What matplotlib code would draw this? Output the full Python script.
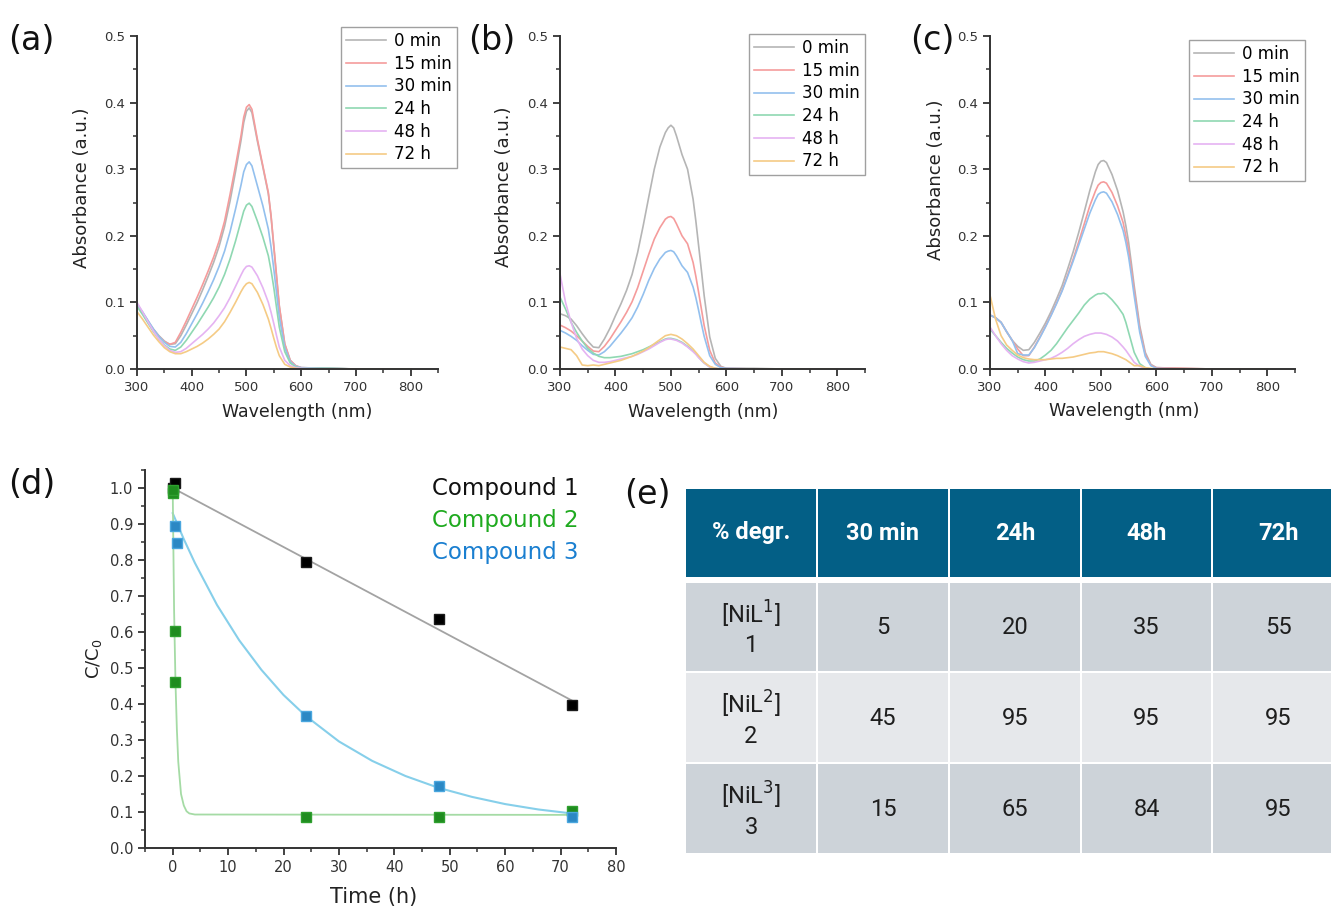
import matplotlib
matplotlib.use("Agg")
import matplotlib.pyplot as plt
from matplotlib.patches import Rectangle
from matplotlib.ticker import MultipleLocator, FormatStrFormatter

plt.rcParams["font.family"] = ["DejaVu Sans"]
plt.rcParams["mathtext.fontset"] = "custom"
plt.rcParams["mathtext.rm"] = "DejaVu Sans"

# ---------------- data ----------------
WAVELENGTH = [300, 310, 320, 330, 340, 350, 360, 370, 380, 390, 400, 410, 420, 430, 440, 450, 460, 470, 480,
              490, 495, 500, 505, 510, 520, 530, 540, 545, 550, 555, 560, 570, 580, 590, 600,
              650, 700, 750, 800]
TIME_LABELS = ["0 min", "15 min", "30 min", "24 h", "48 h", "72 h"]

# panel (a)
a_0min = [0.097, 0.085, 0.072, 0.060, 0.050, 0.042, 0.037, 0.038, 0.050, 0.066, 0.083, 0.100, 0.119, 0.139, 0.160,
          0.184, 0.214, 0.252, 0.296, 0.343, 0.370, 0.387, 0.392, 0.385, 0.342, 0.303, 0.263, 0.228, 0.183, 0.138,
          0.094, 0.037, 0.013, 0.005, 0.002, 0.001, 0.0, 0.0, 0.0]
a_15min = [0.095, 0.084, 0.071, 0.059, 0.049, 0.041, 0.037, 0.040, 0.055, 0.072, 0.090, 0.108, 0.127, 0.147, 0.168,
           0.192, 0.222, 0.262, 0.305, 0.350, 0.378, 0.393, 0.397, 0.390, 0.345, 0.305, 0.265, 0.230, 0.185, 0.140,
           0.095, 0.038, 0.013, 0.005, 0.002, 0.001, 0.0, 0.0, 0.0]
a_30min = [0.097, 0.086, 0.073, 0.060, 0.049, 0.040, 0.034, 0.033, 0.040, 0.053, 0.068, 0.083, 0.099, 0.116, 0.134,
           0.154, 0.177, 0.206, 0.240, 0.276, 0.296, 0.307, 0.311, 0.305, 0.275, 0.245, 0.210, 0.183, 0.150, 0.114,
           0.078, 0.032, 0.011, 0.004, 0.002, 0.001, 0.0, 0.0, 0.0]
a_24h = [0.094, 0.082, 0.069, 0.056, 0.045, 0.036, 0.030, 0.028, 0.033, 0.043, 0.055, 0.067, 0.080, 0.093, 0.107,
         0.123, 0.142, 0.165, 0.192, 0.222, 0.237, 0.246, 0.249, 0.244, 0.222, 0.198, 0.170, 0.148, 0.122, 0.092,
         0.063, 0.026, 0.009, 0.003, 0.001, 0.001, 0.0, 0.0, 0.0]
a_48h = [0.100, 0.086, 0.071, 0.057, 0.045, 0.035, 0.028, 0.025, 0.026, 0.031, 0.038, 0.045, 0.052, 0.060, 0.069,
         0.080, 0.092, 0.107, 0.124, 0.141, 0.149, 0.154, 0.155, 0.153, 0.140, 0.122, 0.100, 0.085, 0.068, 0.050,
         0.033, 0.013, 0.005, 0.002, 0.001, 0.0, 0.0, 0.0, 0.0]
a_72h = [0.086, 0.075, 0.063, 0.051, 0.041, 0.032, 0.026, 0.023, 0.023, 0.026, 0.030, 0.034, 0.039, 0.045, 0.052,
         0.060, 0.071, 0.085, 0.100, 0.116, 0.123, 0.128, 0.130, 0.128, 0.115, 0.097, 0.075, 0.061, 0.046, 0.032,
         0.020, 0.007, 0.003, 0.001, 0.0, 0.0, 0.0, 0.0, 0.0]

# panel (b)
b_0min = [0.083, 0.080, 0.075, 0.065, 0.053, 0.042, 0.033, 0.032, 0.045, 0.061, 0.080, 0.098, 0.118, 0.142, 0.175,
          0.215, 0.258, 0.300, 0.333, 0.355, 0.362, 0.366, 0.362, 0.350, 0.322, 0.300, 0.255, 0.222, 0.185, 0.148,
          0.110, 0.048, 0.016, 0.004, 0.001, 0.001, 0.0, 0.0, 0.0]
b_15min = [0.066, 0.062, 0.057, 0.050, 0.042, 0.034, 0.027, 0.026, 0.034, 0.045, 0.058, 0.071, 0.085, 0.101, 0.122,
           0.147, 0.172, 0.195, 0.212, 0.225, 0.228, 0.229, 0.226, 0.218, 0.200, 0.188, 0.160, 0.139, 0.115, 0.090,
           0.065, 0.028, 0.009, 0.003, 0.001, 0.0, 0.0, 0.0, 0.0]
b_30min = [0.058, 0.054, 0.049, 0.043, 0.035, 0.028, 0.022, 0.021, 0.026, 0.034, 0.044, 0.054, 0.065, 0.077, 0.093,
           0.112, 0.133, 0.151, 0.165, 0.175, 0.177, 0.178, 0.176, 0.170, 0.155, 0.145, 0.123, 0.107, 0.088, 0.068,
           0.049, 0.020, 0.007, 0.002, 0.001, 0.0, 0.0, 0.0, 0.0]
b_24h = [0.108, 0.090, 0.070, 0.055, 0.042, 0.031, 0.024, 0.019, 0.017, 0.017, 0.018, 0.019, 0.021, 0.023, 0.026,
         0.029, 0.033, 0.037, 0.041, 0.045, 0.046, 0.046, 0.045, 0.044, 0.040, 0.034, 0.027, 0.023, 0.018, 0.013,
         0.009, 0.003, 0.001, 0.0, 0.0, 0.0, 0.0, 0.0, 0.0]
b_48h = [0.143, 0.100, 0.070, 0.046, 0.030, 0.020, 0.013, 0.010, 0.010, 0.011, 0.013, 0.015, 0.017, 0.019, 0.022,
         0.026, 0.030, 0.035, 0.040, 0.044, 0.045, 0.045, 0.044, 0.043, 0.039, 0.033, 0.026, 0.022, 0.017, 0.013,
         0.009, 0.003, 0.001, 0.0, 0.0, 0.0, 0.0, 0.0, 0.0]
b_72h = [0.033, 0.031, 0.029, 0.020, 0.006, 0.005, 0.006, 0.005, 0.007, 0.009, 0.011, 0.013, 0.016, 0.019, 0.023,
         0.027, 0.032, 0.038, 0.044, 0.050, 0.051, 0.052, 0.051, 0.050, 0.045, 0.038, 0.030, 0.025, 0.020, 0.015,
         0.010, 0.004, 0.001, 0.0, 0.0, 0.0, 0.0, 0.0, 0.0]

# panel (c)
c_0min = [0.081, 0.077, 0.070, 0.056, 0.043, 0.034, 0.028, 0.029, 0.040, 0.054, 0.069, 0.086, 0.105, 0.125, 0.150,
          0.176, 0.205, 0.236, 0.268, 0.296, 0.307, 0.312, 0.313, 0.310, 0.292, 0.268, 0.236, 0.215, 0.190, 0.158,
          0.125, 0.065, 0.025, 0.007, 0.002, 0.001, 0.0, 0.0, 0.0]
c_15min = [0.081, 0.077, 0.070, 0.056, 0.043, 0.030, 0.020, 0.020, 0.033, 0.048, 0.064, 0.081, 0.099, 0.118, 0.141,
           0.165, 0.191, 0.218, 0.245, 0.267, 0.276, 0.280, 0.281, 0.279, 0.265, 0.245, 0.220, 0.200, 0.178, 0.149,
           0.118, 0.060, 0.022, 0.006, 0.002, 0.001, 0.0, 0.0, 0.0]
c_30min = [0.081, 0.077, 0.070, 0.056, 0.043, 0.023, 0.021, 0.021, 0.032, 0.047, 0.063, 0.080, 0.098, 0.117, 0.139,
           0.162, 0.186, 0.210, 0.234, 0.254, 0.262, 0.265, 0.266, 0.264, 0.251, 0.232, 0.208, 0.190, 0.168, 0.140,
           0.110, 0.055, 0.019, 0.005, 0.001, 0.0, 0.0, 0.0, 0.0]
c_24h = [0.060, 0.050, 0.040, 0.031, 0.024, 0.018, 0.014, 0.012, 0.012, 0.015, 0.021, 0.028, 0.038, 0.050, 0.062,
         0.073, 0.084, 0.096, 0.105, 0.111, 0.113, 0.113, 0.114, 0.112, 0.104, 0.094, 0.082, 0.070, 0.055, 0.040,
         0.025, 0.008, 0.002, 0.0, 0.0, 0.0, 0.0, 0.0, 0.0]
c_48h = [0.063, 0.050, 0.038, 0.028, 0.020, 0.015, 0.011, 0.009, 0.010, 0.012, 0.014, 0.016, 0.020, 0.025, 0.031,
         0.038, 0.044, 0.049, 0.052, 0.054, 0.054, 0.054, 0.053, 0.052, 0.048, 0.042, 0.033, 0.028, 0.022, 0.016,
         0.010, 0.004, 0.001, 0.0, 0.0, 0.0, 0.0, 0.0, 0.0]
c_72h = [0.111, 0.075, 0.050, 0.036, 0.028, 0.021, 0.017, 0.015, 0.014, 0.014, 0.014, 0.015, 0.016, 0.016, 0.017,
         0.018, 0.020, 0.022, 0.024, 0.025, 0.026, 0.026, 0.026, 0.025, 0.023, 0.020, 0.016, 0.014, 0.011, 0.008,
         0.005, 0.005, 0.002, 0.001, 0.0, 0.0, 0.0, 0.0, 0.0]

# panel (d)
t_c1 = [0, 0.5, 24, 48, 72]
c1 = [1.000, 1.015, 0.795, 0.635, 0.397]
t_c2 = [0, 0.08, 0.33, 0.5, 24, 48, 72]
c2 = [0.986, 0.995, 0.602, 0.460, 0.086, 0.086, 0.104]
t_c3 = [0.45, 0.8, 24, 48, 72]
c3 = [0.895, 0.847, 0.367, 0.173, 0.087]
fit1_t = [0, 72]
fit1 = [1.0, 0.41]
fit2_t = [0, 0.25, 0.5, 0.75, 1.0, 1.5, 2.0, 2.5, 3.0, 4.0, 72]
fit2 = [1.0, 0.66, 0.46, 0.33, 0.24, 0.15, 0.118, 0.102, 0.096, 0.093, 0.092]
fit3_t = [0, 2, 4, 8, 12, 16, 20, 24, 30, 36, 42, 48, 54, 60, 66, 72]
fit3 = [0.930, 0.858, 0.792, 0.675, 0.577, 0.495, 0.425, 0.367, 0.296, 0.242, 0.200, 0.167, 0.142, 0.122,
        0.107, 0.096]
COMPOUND_NAMES = ["Compound 1", "Compound 2", "Compound 3"]

# panel (e)
TABLE_HEADER = ["% degr.", "30 min", "24h", "48h", "72h"]
ROW_LABELS = ["[NiL$^1$]\n1", "[NiL$^2$]\n2", "[NiL$^3$]\n3"]
deg_30min = [5, 45, 15]
deg_24h = [20, 95, 65]
deg_48h = [35, 95, 84]
deg_72h = [55, 95, 95]

# ---------------- layout ----------------
W, H = 1331, 910
fig = plt.figure(figsize=(W / 100, H / 100), dpi=100)
fig.patch.set_facecolor("white")


def fx(x):
    return x / W


def fy(y):
    return 1 - y / H


def add_ax(l, t, r, b):
    return fig.add_axes([fx(l), fy(b), (r - l) / W, (b - t) / H])


SPEC_COLORS = ["#b5b5b5", "#f59c9c", "#93c0ee", "#8fd8b2", "#e5b3f2", "#f5cb85"]
AX_COLOR = "#333333"


def style(ax, ticksize):
    for s in ["top", "right"]:
        ax.spines[s].set_visible(False)
    for s in ["left", "bottom"]:
        ax.spines[s].set_linewidth(1.4)
        ax.spines[s].set_color(AX_COLOR)
    ax.tick_params(which="major", direction="out", length=5, width=1.3, colors=AX_COLOR,
                   labelsize=ticksize, labelcolor="#333333")
    ax.tick_params(which="minor", direction="out", length=3, width=1.1, colors=AX_COLOR)


# table axes (pixel coordinates), drawn first / underneath
ax_t = fig.add_axes([0, 0, 1, 1])
ax_t.set_xlim(0, W)
ax_t.set_ylim(H, 0)
ax_t.axis("off")

spectra = [
    ([a_0min, a_15min, a_30min, a_24h, a_48h, a_72h], (137, 36, 438, 369), (341, 27), "(a)", (8, 40),
     (82, 188), (297, 412)),
    ([b_0min, b_15min, b_30min, b_24h, b_48h, b_72h], (560, 36, 865, 369), (749, 34), "(b)", (468, 40),
     (504, 187), (703, 412)),
    ([c_0min, c_15min, c_30min, c_24h, c_48h, c_72h], (990, 36, 1295, 369), (1189, 40), "(c)", (910, 40),
     (936, 180), (1124, 411)),
]

for series, box, legpos, tag, tagpos, ylabpos, xlabpos in spectra:
    ax = add_ax(*box)
    for vals, lab, col in zip(series, TIME_LABELS, SPEC_COLORS):
        ax.plot(WAVELENGTH, vals, color=col, lw=1.2, label=lab)
    ax.set_xlim(300, 850)
    ax.set_ylim(0, 0.5)
    ax.xaxis.set_major_locator(MultipleLocator(100))
    ax.xaxis.set_minor_locator(MultipleLocator(50))
    ax.yaxis.set_major_locator(MultipleLocator(0.1))
    ax.yaxis.set_minor_locator(MultipleLocator(0.05))
    ax.yaxis.set_major_formatter(FormatStrFormatter("%.1f"))
    style(ax, 9.5)
    leg = ax.legend(loc="upper left", bbox_to_anchor=(fx(legpos[0]), fy(legpos[1])),
                    bbox_transform=fig.transFigure, borderaxespad=0, fontsize=12,
                    handlelength=2.4, handletextpad=0.5, labelspacing=0.28, borderpad=0.3,
                    fancybox=False, framealpha=1, edgecolor="#a0a0a0")
    leg.get_frame().set_linewidth(1.0)
    fig.text(fx(tagpos[0]), fy(tagpos[1]), tag, fontsize=24, ha="left", va="center", color="#111111")
    fig.text(fx(ylabpos[0]), fy(ylabpos[1]), "Absorbance (a.u.)", rotation=90, fontsize=13,
             ha="center", va="center", color="#222222")
    fig.text(fx(xlabpos[0]), fy(xlabpos[1]), "Wavelength (nm)", fontsize=12.5,
             ha="center", va="center", color="#222222")

# ---------------- panel (d) ----------------
axd = add_ax(145, 470, 616, 848)
axd.plot(fit1_t, fit1, color="#a3a3a3", lw=1.3, zorder=1)
axd.plot(fit3_t, fit3, color="#86cfea", lw=1.5, zorder=1)
axd.plot(fit2_t, fit2, color="#a5dba5", lw=1.3, zorder=1)
axd.plot(t_c1, c1, ls="none", marker="s", ms=7, mfc="#000000", mec="#1a1a1a", zorder=3)
axd.plot(t_c2, c2, ls="none", marker="s", ms=7, mfc="#1f8c1f", mec="#2fa02f", zorder=4)
axd.plot(t_c3, c3, ls="none", marker="s", ms=7, mfc="#2b88c4", mec="#4aa7df", zorder=5)
axd.set_xlim(-5, 80)
axd.set_ylim(0, 1.05)
axd.xaxis.set_major_locator(MultipleLocator(10))
axd.xaxis.set_minor_locator(MultipleLocator(5))
axd.yaxis.set_major_locator(MultipleLocator(0.1))
axd.yaxis.set_minor_locator(MultipleLocator(0.05))
axd.yaxis.set_major_formatter(FormatStrFormatter("%.1f"))
style(axd, 10.5)
fig.text(fx(94), fy(659), "C/C$_0$", rotation=90, fontsize=13, ha="center", va="center", color="#222222")
fig.text(fx(374), fy(897), "Time (h)", fontsize=15, ha="center", va="center", color="#222222")
fig.text(fx(8), fy(485), "(d)", fontsize=24, ha="left", va="center", color="#111111")
for name, col, yy in zip(COMPOUND_NAMES, ["#111111", "#1faa1f", "#1a7fd0"], [488, 520, 553]):
    fig.text(fx(432), fy(yy), name, fontsize=16.5, ha="left", va="center", color=col)

# ---------------- panel (e) ----------------
fig.text(fx(624), fy(495), "(e)", fontsize=24, ha="left", va="center", color="#111111")
col_x = [(686, 816), (818, 948), (950, 1080), (1082, 1211), (1213, 1350)]
row_y = [(489, 577), (583, 671), (673, 762), (764, 853)]
HEADER_BG = "#035f86"
ROW_BG = ["#cdd3d9", "#e6e8eb", "#cdd3d9"]
TABLE_FONT = ["Roboto", "DejaVu Sans"]

for (x0, x1), txt in zip(col_x, TABLE_HEADER):
    y0, y1 = row_y[0]
    ax_t.add_patch(Rectangle((x0, y0), x1 - x0, y1 - y0, facecolor=HEADER_BG, edgecolor="none"))
    cx = (x0 + x1) / 2 if x1 < W else (x0 + 1344) / 2
    ax_t.text(cx, (y0 + y1) / 2, txt, color="white",
              fontsize=17, fontweight="bold", ha="center", va="center", family=TABLE_FONT)

value_cols = [deg_30min, deg_24h, deg_48h, deg_72h]
for r, label in enumerate(ROW_LABELS):
    y0, y1 = row_y[r + 1]
    cells = [label] + [str(vc[r]) for vc in value_cols]
    for (x0, x1), txt in zip(col_x, cells):
        ax_t.add_patch(Rectangle((x0, y0), x1 - x0, y1 - y0, facecolor=ROW_BG[r], edgecolor="none"))
        cx = (x0 + x1) / 2 if x1 < W else (x0 + 1344) / 2
        ax_t.text(cx, (y0 + y1) / 2 + 1, txt, color="#1e1e1e", fontsize=17, ha="center", va="center",
                  family=TABLE_FONT, linespacing=1.25, multialignment="center")

fig.savefig("out.png", dpi=100, facecolor="white")
